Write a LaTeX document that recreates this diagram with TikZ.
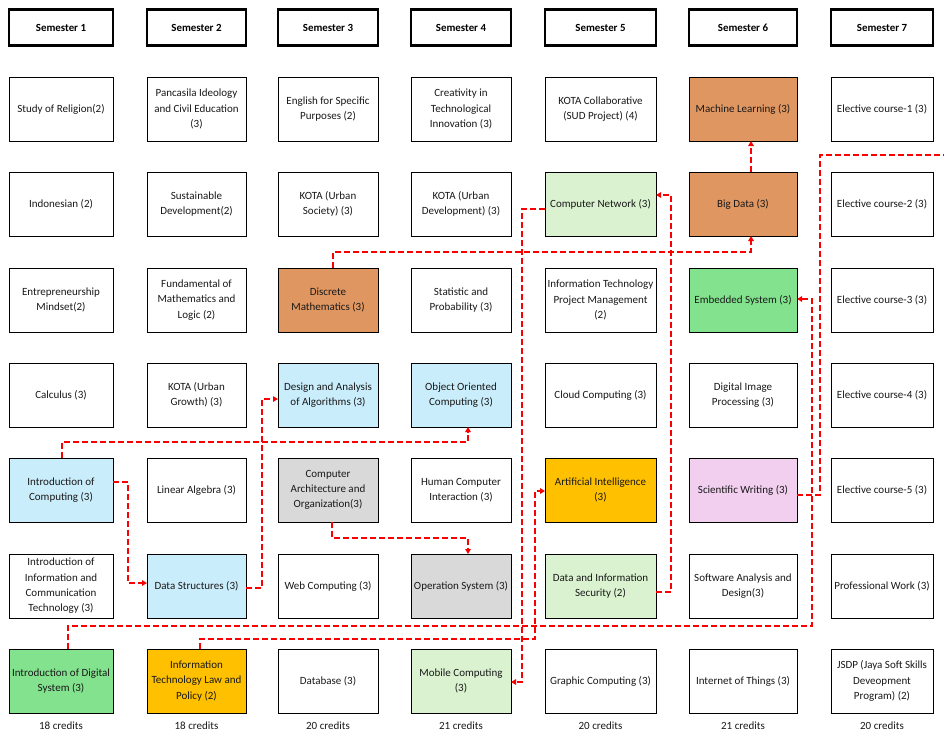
\documentclass[tikz,border=0pt]{standalone}
\usepackage{fontspec}
\setmainfont{Carlito}
\usetikzlibrary{arrows.meta}
\definecolor{corange}{RGB}{224,150,96}
\definecolor{clgreen}{RGB}{218,242,208}
\definecolor{cgreen}{RGB}{131,226,142}
\definecolor{cblue}{RGB}{202,237,251}
\definecolor{cgray}{RGB}{217,217,217}
\definecolor{cgold}{RGB}{255,192,0}
\definecolor{cpink}{RGB}{242,206,239}
\definecolor{cred}{RGB}{250,0,0}
\begin{document}
\begin{tikzpicture}[x=1pt,y=1pt,
  box/.style={draw=black,line width=0.85pt,minimum height=64pt,outer sep=0pt,align=center,inner sep=1pt,
    font=\fontsize{11}{15.3}\selectfont,text=black!90},
  hdr/.style={draw=black,line width=2.4pt,minimum height=36pt,outer sep=0pt,align=center,inner sep=1pt,
    font=\fontsize{10.9}{13}\selectfont\bfseries},
  cred/.style={font=\fontsize{11}{13}\selectfont,text=black!90},
  wa/.style={minimum width=104pt},
  wb/.style={minimum width=99pt},
  wc/.style={minimum width=100pt},
  wd/.style={minimum width=100pt},
  we/.style={minimum width=111pt},
  wf/.style={minimum width=108pt},
  wg/.style={minimum width=102pt},
  conn/.style={draw=cred,line width=2pt,dash pattern=on 6pt off 3pt,-{Triangle[length=5pt,width=5.5pt]}},
  plainconn/.style={draw=cred,line width=2pt,dash pattern=on 6pt off 3pt}
]
\useasboundingbox[fill=white] (0,0) rectangle (944,-741);

% headers
\node[hdr,wa] (h1) at (61,-27.5) {Semester 1};
\node[hdr,wb] (h2) at (196.5,-27.5) {Semester 2};
\node[hdr,wc] (h3) at (328,-27.5) {Semester 3};
\node[hdr,wd] (h4) at (461,-27.5) {Semester 4};
\node[hdr,we] (h5) at (600.5,-27.5) {Semester 5};
\node[hdr,wf] (h6) at (743,-27.5) {Semester 6};
\node[hdr,wg] (h7) at (882,-27.5) {Semester 7};

% column 1
\node[box,wa] (sr) at (61,-109) {Study of Religion(2)};
\node[box,wa] (ind) at (61,-204) {Indonesian (2)};
\node[box,wa] (ent) at (61,-300) {Entrepreneurship\\Mindset(2)};
\node[box,wa] (calc) at (61,-395) {Calculus (3)};
\node[box,wa,fill=cblue] (ic) at (61,-490) {Introduction of\\Computing (3)};
\node[box,wa] (iict) at (61,-586) {Introduction of\\Information and\\Communication\\Technology (3)};
\node[box,wa,fill=cgreen] (ids) at (61,-681) {Introduction of Digital\\System (3)};

% column 2
\node[box,wb] (pan) at (196.5,-109) {Pancasila Ideology\\and Civil Education\\(3)};
\node[box,wb] (sd) at (196.5,-204) {Sustainable\\Development(2)};
\node[box,wb] (fml) at (196.5,-300) {Fundamental of\\Mathematics and\\Logic (2)};
\node[box,wb] (kug) at (196.5,-395) {KOTA (Urban\\Growth) (3)};
\node[box,wb] (la) at (196.5,-490) {Linear Algebra (3)};
\node[box,wb,fill=cblue] (ds) at (196.5,-586) {Data Structures (3)};
\node[box,wb,fill=cgold] (itl) at (196.5,-681) {Information\\Technology Law and\\Policy (2)};

% column 3
\node[box,wc] (esp) at (328,-109) {English for Specific\\Purposes (2)};
\node[box,wc] (kus) at (328,-204) {KOTA (Urban\\Society) (3)};
\node[box,wc,fill=corange] (dm) at (328,-300) {Discrete\\Mathematics (3)};
\node[box,wc,fill=cblue] (daa) at (328,-395) {Design and Analysis\\of Algorithms (3)};
\node[box,wc,fill=cgray] (ca) at (328,-490) {Computer\\Architecture and\\Organization(3)};
\node[box,wc] (wcomp) at (328,-586) {Web Computing (3)};
\node[box,wc] (db) at (328,-681) {Database (3)};

% column 4
\node[box,wd] (cti) at (461,-109) {Creativity in\\Technological\\Innovation (3)};
\node[box,wd] (kud) at (461,-204) {KOTA (Urban\\Development) (3)};
\node[box,wd] (sp) at (461,-300) {Statistic and\\Probability (3)};
\node[box,wd,fill=cblue] (ooc) at (461,-395) {Object Oriented\\Computing (3)};
\node[box,wd] (hci) at (461,-490) {Human Computer\\Interaction (3)};
\node[box,wd,fill=cgray] (os) at (461,-586) {Operation System (3)};
\node[box,wd,fill=clgreen] (mc) at (461,-681) {Mobile Computing\\(3)};

% column 5
\node[box,we] (kc) at (600.5,-109) {KOTA Collaborative\\(SUD Project) (4)};
\node[box,we,fill=clgreen] (cn) at (600.5,-204) {Computer Network (3)};
\node[box,we] (itpm) at (600.5,-300) {Information Technology\\Project Management\\(2)};
\node[box,we] (cc) at (600.5,-395) {Cloud Computing (3)};
\node[box,we,fill=cgold] (ai) at (600.5,-490) {Artificial Intelligence\\(3)};
\node[box,we,fill=clgreen] (dis) at (600.5,-586) {Data and Information\\Security (2)};
\node[box,we] (gc) at (600.5,-681) {Graphic Computing (3)};

% column 6
\node[box,wf,fill=corange] (ml) at (743,-109) {Machine Learning (3)};
\node[box,wf,fill=corange] (bd) at (743,-204) {Big Data (3)};
\node[box,wf,fill=cgreen] (es) at (743,-300) {Embedded System (3)};
\node[box,wf] (dip) at (743,-395) {Digital Image\\Processing (3)};
\node[box,wf,fill=cpink] (sw) at (743,-490) {Scientific Writing (3)};
\node[box,wf] (sad) at (743,-586) {Software Analysis and\\Design(3)};
\node[box,wf] (iot) at (743,-681) {Internet of Things (3)};

% column 7
\node[box,wg] (e1) at (882,-109) {Elective course-1 (3)};
\node[box,wg] (e2) at (882,-204) {Elective course-2 (3)};
\node[box,wg] (e3) at (882,-300) {Elective course-3 (3)};
\node[box,wg] (e4) at (882,-395) {Elective course-4 (3)};
\node[box,wg] (e5) at (882,-490) {Elective course-5 (3)};
\node[box,wg] (pw) at (882,-586) {Professional Work (3)};
\node[box,wg] (jsdp) at (882,-681) {JSDP (Jaya Soft Skills\\Deveopment\\Program) (2)};

% credits
\node[cred] (cr1) at (61,-725.5) {18 credits};
\node[cred] (cr2) at (196.5,-725.5) {18 credits};
\node[cred] (cr3) at (328,-725.5) {20 credits};
\node[cred] (cr4) at (461,-725.5) {21 credits};
\node[cred] (cr5) at (600.5,-725.5) {20 credits};
\node[cred] (cr6) at (743,-725.5) {21 credits};
\node[cred] (cr7) at (882,-725.5) {20 credits};

\coordinate (offr) at (944,-155);

% connectors
\draw[conn] ([xshift=5pt]dm.north) -- ++(0,16) -| ([xshift=8pt]bd.south);
\draw[conn] ([xshift=8pt]bd.north) -- ([xshift=8pt]ml.south);
\draw[conn] ([yshift=-2pt]ds.east) -- ++(16,0) |- ([yshift=-4pt]daa.west);
\draw[conn] ([xshift=1pt]ic.north) -- ++(0,16) -| ([xshift=7pt]ooc.south);
\draw[conn] ([yshift=8pt]ic.east) -- ++(15,0) |- ([yshift=3pt]ds.west);
\draw[conn] ([xshift=4pt]ca.south) -- ++(0,-16) -| ([xshift=7pt]os.north);
\draw[conn] ([yshift=-5pt]cn.west) -- ++(-23,0) |- ([yshift=-1pt]mc.east);
\draw[conn] ([yshift=-6pt]dis.east) -- ++(15,0) |- ([yshift=9pt]cn.east);
\draw[plainconn] ([yshift=-5pt]sw.east) -- ++(23,0) |- (offr);
\draw[conn] ([xshift=7pt]ids.north) -- ++(0,23) -- ++(744,0) |- ([yshift=1pt]es.east);
\draw[conn] ([xshift=3.5pt]itl.north) -- ++(0,10) -- ++(335,0) |- ([yshift=-1pt]ai.west);
\end{tikzpicture}
\end{document}
